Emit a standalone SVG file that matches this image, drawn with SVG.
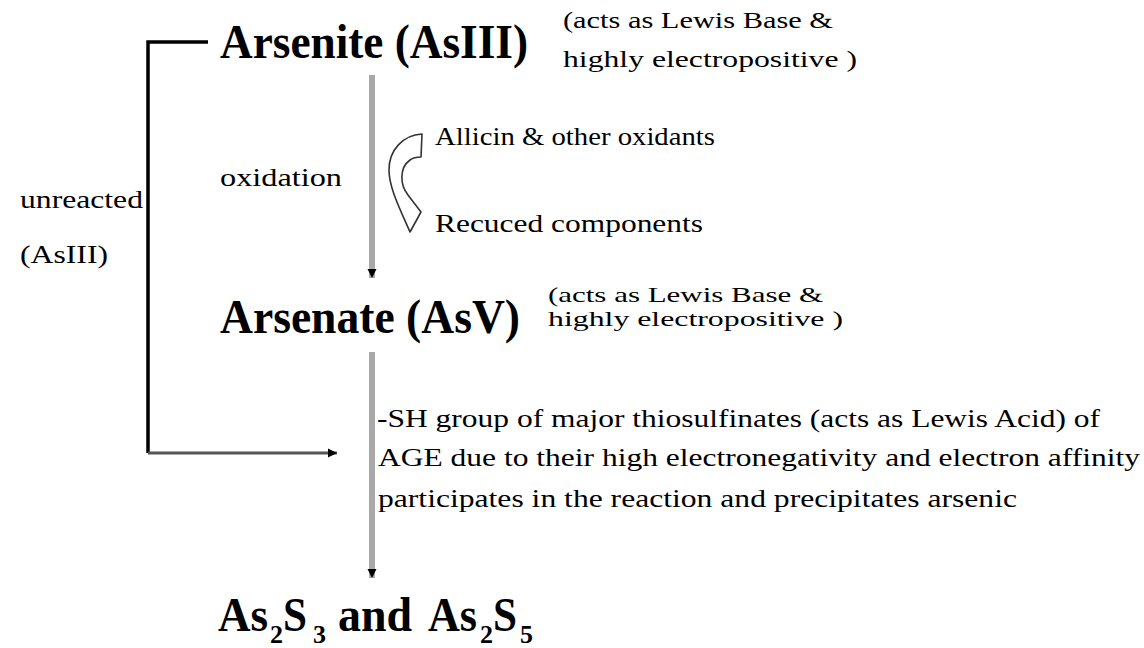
<svg xmlns="http://www.w3.org/2000/svg" width="1144" height="648" viewBox="0 0 1144 648">
  <style>
    text { font-family: "Times New Roman", "Liberation Serif", Tinos, "DejaVu Serif", serif; fill: #000; }
    .title { font-weight: bold; font-size: 48px; }
    .note { font-size: 24px; }
    .note-tight { font-size: 22px; }
    .body { font-size: 26px; }
    .sub { font-weight: bold; font-size: 26px; }
    .flow { stroke: #a9a9a9; stroke-width: 6; fill: none; }
    .bracket { stroke: #000; stroke-width: 3.5; fill: none; }
    .return { stroke: #555; stroke-width: 3; fill: none; }
  </style>
  <defs>
    <marker id="tip" viewBox="0 0 10 10" refX="10" refY="5" markerWidth="9" markerHeight="11" markerUnits="userSpaceOnUse" orient="auto">
      <path d="M0,0 L10,5 L0,10 z" fill="#000"/>
    </marker>
  </defs>
  <rect width="1144" height="648" fill="#fff"/>

  <!-- connectors -->
  <g id="connectors">
    <line class="flow" x1="372" y1="75" x2="372" y2="278" marker-end="url(#tip)"/>
    <line class="flow" x1="372" y1="352" x2="372" y2="578" marker-end="url(#tip)"/>
    <path class="bracket" d="M208,42 H148 V453"/>
    <line class="return" x1="148" y1="453" x2="337" y2="453" marker-end="url(#tip)"/>
    <!-- curved hollow arrow beside the oxidation step -->
    <path d="M422,134 C403,135 389,150 389,170 C389,187 399,207 410,232 L421,212 L411,199 L408,195 C400,185 399,168 410,160 C414,157 418,157 421,157 Z" fill="#fff" stroke="#333" stroke-width="1.6" stroke-linejoin="round"/>
  </g>

  <g id="arsenite">
    <text class="title" x="220" y="58" textLength="308" lengthAdjust="spacingAndGlyphs">Arsenite (AsIII)</text>
    <text class="note" x="563" y="28" textLength="270" lengthAdjust="spacingAndGlyphs">(acts as Lewis Base &amp;</text>
    <text class="note" x="563" y="67" textLength="294" lengthAdjust="spacingAndGlyphs">highly electropositive )</text>
  </g>

  <g id="oxidation">
    <text class="body" x="220" y="186" textLength="122" lengthAdjust="spacingAndGlyphs">oxidation</text>
    <text class="body" x="435" y="145" textLength="280" lengthAdjust="spacingAndGlyphs">Allicin &amp; other oxidants</text>
    <text class="body" x="435" y="232" textLength="268" lengthAdjust="spacingAndGlyphs">Recuced components</text>
  </g>

  <g id="unreacted">
    <text class="body" x="20" y="208" textLength="123" lengthAdjust="spacingAndGlyphs">unreacted</text>
    <text class="body" x="20" y="263" textLength="88" lengthAdjust="spacingAndGlyphs">(AsIII)</text>
  </g>

  <g id="arsenate">
    <text class="title" x="220" y="333" textLength="300" lengthAdjust="spacingAndGlyphs">Arsenate (AsV)</text>
    <text class="note-tight" x="548" y="302" textLength="275" lengthAdjust="spacingAndGlyphs">(acts as Lewis Base &amp;</text>
    <text class="note-tight" x="548" y="326" textLength="295" lengthAdjust="spacingAndGlyphs">highly electropositive )</text>
  </g>

  <g id="thiosulfinates">
    <text class="body" x="377" y="427" textLength="723" lengthAdjust="spacingAndGlyphs">-SH group of major thiosulfinates (acts as Lewis Acid) of</text>
    <text class="body" x="378" y="466" textLength="762" lengthAdjust="spacingAndGlyphs">AGE due to their high electronegativity and electron affinity</text>
    <text class="body" x="378" y="507" textLength="639" lengthAdjust="spacingAndGlyphs">participates in the reaction and precipitates arsenic</text>
  </g>

  <g id="sulfides">
    <text class="title" x="218" y="631" textLength="50" lengthAdjust="spacingAndGlyphs">As</text>
    <text class="sub" x="270" y="643">2</text>
    <text class="title" x="283" y="631" textLength="24" lengthAdjust="spacingAndGlyphs">S</text>
    <text class="sub" x="313" y="643">3</text>
    <text class="title" x="338" y="631" textLength="74" lengthAdjust="spacingAndGlyphs">and</text>
    <text class="title" x="428" y="631" textLength="49" lengthAdjust="spacingAndGlyphs">As</text>
    <text class="sub" x="480" y="643">2</text>
    <text class="title" x="493" y="631" textLength="24" lengthAdjust="spacingAndGlyphs">S</text>
    <text class="sub" x="520" y="643">5</text>
  </g>
</svg>
